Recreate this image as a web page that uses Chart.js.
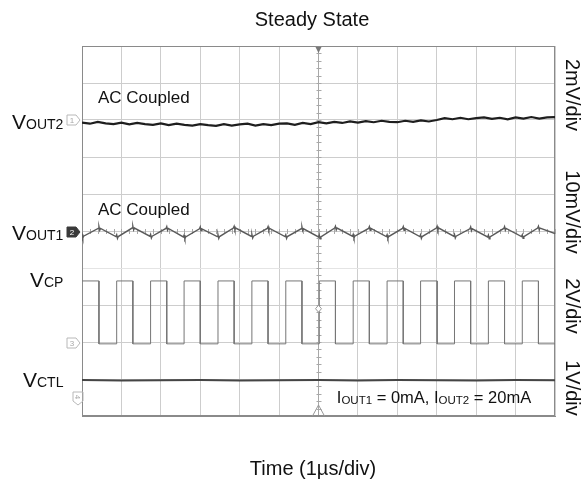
<!DOCTYPE html>
<html>
<head>
<meta charset="utf-8">
<title>Steady State</title>
<script src="https://cdn.jsdelivr.net/npm/chart.js@4"></script>
<style>
  html, body { margin: 0; padding: 0; background: #fff; }
  #wrap { width: 588px; height: 484px; position: relative; }
</style>
</head>
<body>
<div id="wrap"><canvas id="scope"></canvas></div>
<script>
// screen is 12 x 10 divisions, time in µs (1 µs/div), levels in divisions
const X_DIVS = 12;
const Y_DIVS = 10;

// VOUT2 (AC coupled, 2mV/div) sampled every 0.2 div
const VOUT2_STEP = 0.2;
const vout2 = [7.93, 7.90, 7.95, 7.91, 7.89, 7.93, 7.88, 7.92, 7.89, 7.87,
  7.91, 7.86, 7.90, 7.87, 7.85, 7.89, 7.86, 7.84, 7.89, 7.85,
  7.88, 7.90, 7.85, 7.89, 7.86, 7.90, 7.91, 7.87, 7.92, 7.89,
  7.94, 7.91, 7.95, 7.92, 7.96, 7.93, 7.97, 7.94, 7.98, 7.95,
  7.94, 7.98, 7.95, 7.99, 7.96, 8.00, 8.05, 8.02, 8.06, 8.02,
  8.05, 8.07, 8.03, 8.06, 8.02, 8.07, 8.04, 8.08, 8.04, 8.07, 8.08];

// VCP switching edges (div)
const vcpFall = [0.43, 1.29, 2.15, 3.00, 3.86, 4.72, 5.58, 6.43, 7.29, 8.15, 9.01, 9.86, 10.72, 11.58];
const vcpRise = [0.88, 1.74, 2.59, 3.45, 4.31, 5.17, 6.02, 6.88, 7.74, 8.59, 9.45, 10.31, 11.17];
const VCP_HIGH = 3.65;
const VCP_LOW = 1.95;

// VOUT1 ripple (10mV/div): peaks at VCP falling edges, troughs at rising edges
const vout1Peaks = [5.07, 5.08, 5.07, 5.06, 5.08, 5.07, 5.06, 5.08, 5.07, 5.07, 5.08, 5.06, 5.07, 5.08];
const vout1Troughs = [4.86, 4.85, 4.86, 4.84, 4.85, 4.86, 4.85, 4.84, 4.86, 4.85, 4.85, 4.86, 4.84, 4.85];
const VOUT1_END = 4.93;
const VOUT1_GLITCH = 0.05;

// VCTL (1V/div)
const vctlTimes = [0, 1, 2, 3, 4, 5, 6, 7, 8, 9, 10, 11, 12];
const vctl = [0.97, 0.96, 0.965, 0.97, 0.96, 0.965, 0.97, 0.96, 0.97, 0.965, 0.96, 0.97, 0.965];

// ---- build point lists ----
const vout2Pts = vout2.map((v, i) => ({ x: i * VOUT2_STEP, y: v }));

const vcpPts = [{ x: 0, y: VCP_HIGH }];
vcpFall.forEach((f, i) => {
  vcpPts.push({ x: f, y: VCP_HIGH }, { x: f, y: VCP_LOW });
  if (i < vcpRise.length) {
    vcpPts.push({ x: vcpRise[i], y: VCP_LOW }, { x: vcpRise[i], y: VCP_HIGH });
  }
});
vcpPts.push({ x: X_DIVS, y: VCP_LOW });

const troughTimes = [0].concat(vcpRise);
const vout1Vertices = [];
troughTimes.forEach((t, i) => vout1Vertices.push({ x: t, y: vout1Troughs[i] }));
vcpFall.forEach((t, i) => vout1Vertices.push({ x: t, y: vout1Peaks[i] }));
vout1Vertices.sort((a, b) => a.x - b.x);
const vout1Pts = [];
vout1Vertices.forEach(p => {
  // small switching glitch on every edge
  vout1Pts.push({ x: p.x - 0.02, y: p.y });
  vout1Pts.push({ x: p.x, y: p.y + VOUT1_GLITCH });
  vout1Pts.push({ x: p.x + 0.02, y: p.y - VOUT1_GLITCH });
  vout1Pts.push({ x: p.x + 0.04, y: p.y });
});
vout1Pts.push({ x: X_DIVS, y: VOUT1_END });

const vctlPts = vctl.map((v, i) => ({ x: vctlTimes[i], y: v }));

// ---- decorations: labels, channel markers, trigger marks ----
const FONT = '"Liberation Sans", Arial, Helvetica, sans-serif';

function drawSub(ctx, parts, x, y, align) {
  // parts: [text, size, dy]
  let w = 0;
  parts.forEach(p => { ctx.font = p[1] + 'px ' + FONT; w += ctx.measureText(p[0]).width; });
  let cx = align === 'center' ? x - w / 2 : x;
  ctx.textAlign = 'left';
  ctx.textBaseline = 'alphabetic';
  parts.forEach(p => {
    ctx.font = p[1] + 'px ' + FONT;
    ctx.fillText(p[0], cx, y + (p[2] || 0));
    cx += ctx.measureText(p[0]).width;
  });
}

function chMarker(ctx, x, y, label, filled) {
  ctx.save();
  ctx.beginPath();
  ctx.moveTo(x, y - 5);
  ctx.lineTo(x + 9, y - 5);
  ctx.lineTo(x + 13, y);
  ctx.lineTo(x + 9, y + 5);
  ctx.lineTo(x, y + 5);
  ctx.closePath();
  if (filled) { ctx.fillStyle = '#3a3a3a'; ctx.fill(); }
  ctx.strokeStyle = filled ? '#3a3a3a' : '#b8b8b8';
  ctx.lineWidth = 1;
  ctx.stroke();
  ctx.fillStyle = filled ? '#ffffff' : '#a8a8a8';
  ctx.font = '8px ' + FONT;
  ctx.textAlign = 'center';
  ctx.textBaseline = 'middle';
  ctx.fillText(label, x + 5, y + 0.5);
  ctx.restore();
}

const scopeDecor = {
  id: 'scopeDecor',
  beforeDatasetsDraw(chart) {
    const { ctx, chartArea: a, scales } = chart;
    const cx = scales.x.getPixelForValue(X_DIVS / 2);
    const cy = scales.y.getPixelForValue(Y_DIVS / 2);
    ctx.save();
    ctx.strokeStyle = '#a8a8a8';
    ctx.lineWidth = 1;
    ctx.beginPath();
    for (let v = 0.2; v < Y_DIVS; v += 0.2) {
      const py = Math.round(scales.y.getPixelForValue(v)) + 0.5;
      ctx.moveTo(cx - 2, py); ctx.lineTo(cx + 3, py);
    }
    for (let v = 0.2; v < X_DIVS; v += 0.2) {
      const px = Math.round(scales.x.getPixelForValue(v)) + 0.5;
      ctx.moveTo(px, cy - 2); ctx.lineTo(px, cy + 3);
    }
    ctx.stroke();
    // outer frame
    ctx.strokeStyle = '#8a8a8a';
    ctx.strokeRect(a.left + 0.5, a.top + 0.5, a.right - a.left - 1, a.bottom - a.top - 1);
    ctx.restore();
  },
  afterDraw(chart) {
    const { ctx, chartArea: a, scales } = chart;
    const cx = scales.x.getPixelForValue(X_DIVS / 2);
    ctx.save();
    ctx.fillStyle = '#111';

    // title + axis title
    ctx.font = '20px ' + FONT;
    ctx.textAlign = 'center';
    ctx.textBaseline = 'alphabetic';
    ctx.fillText('Steady State', 312, 26);
    ctx.fillText('Time (1µs/div)', 313, 475);

    // trace names
    drawSub(ctx, [['V', 21], ['OUT2', 14]], 12, 129);
    drawSub(ctx, [['V', 21], ['OUT1', 14]], 12, 240);
    drawSub(ctx, [['V', 21], ['CP', 14]], 30, 287);
    drawSub(ctx, [['V', 21], ['CTL', 14]], 23, 387);

    // in-screen notes
    ctx.font = '17px ' + FONT;
    ctx.textAlign = 'left';
    ctx.fillText('AC Coupled', 98, 103);
    ctx.fillText('AC Coupled', 98, 215);
    drawSub(ctx, [['I', 16.5], ['OUT1', 11.5, 1], [' = 0mA, I', 16.5], ['OUT2', 11.5, 1], [' = 20mA', 16.5]], 434, 403, 'center');

    // vertical scale labels
    const scaleLabels = [['2mV/div', 95], ['10mV/div', 212], ['2V/div', 306], ['1V/div', 388]];
    ctx.font = '20px ' + FONT;
    ctx.textAlign = 'center';
    ctx.textBaseline = 'middle';
    scaleLabels.forEach(([t, y]) => {
      ctx.save();
      ctx.translate(572, y);
      ctx.rotate(Math.PI / 2);
      ctx.fillText(t, 0, 0);
      ctx.restore();
    });

    // channel ground markers
    chMarker(ctx, 67, 120, '1', false);
    chMarker(ctx, 67, 232, '2', true);
    chMarker(ctx, 67, 343, '3', false);
    ctx.save();
    ctx.translate(78, 398);
    ctx.rotate(Math.PI / 2);
    chMarker(ctx, -6, 0, '4', false);
    ctx.restore();

    // trigger position / level marks
    ctx.fillStyle = '#777';
    ctx.beginPath();
    ctx.moveTo(cx - 3, a.top + 1); ctx.lineTo(cx + 3, a.top + 1); ctx.lineTo(cx, a.top + 7);
    ctx.closePath(); ctx.fill();
    ctx.strokeStyle = '#999';
    ctx.lineWidth = 1;
    ctx.beginPath();
    ctx.moveTo(cx - 6, a.bottom); ctx.lineTo(cx, a.bottom - 11); ctx.lineTo(cx + 6, a.bottom);
    ctx.stroke();
    const dy = scales.y.getPixelForValue(2.9);
    ctx.beginPath();
    ctx.moveTo(cx, dy - 3.5); ctx.lineTo(cx + 3, dy); ctx.lineTo(cx, dy + 3.5); ctx.lineTo(cx - 3, dy);
    ctx.closePath();
    ctx.fillStyle = '#fff'; ctx.fill(); ctx.stroke();
    ctx.restore();
  }
};

function trace(label, data, color, width) {
  return {
    label, data,
    borderColor: color,
    borderWidth: width,
    pointRadius: 0,
    tension: 0,
    fill: false,
  };
}

new Chart(document.getElementById('scope'), {
  type: 'line',
  data: {
    datasets: [
      trace('VOUT2', vout2Pts, '#1e1e1e', 2.2),
      trace('VOUT1', vout1Pts, '#5a5a5a', 1.4),
      trace('VCP', vcpPts, '#767676', 1),
      trace('VCTL', vctlPts, '#454545', 2),
    ],
  },
  options: {
    responsive: true,
    maintainAspectRatio: false,
    animation: false,
    layout: { padding: { left: 82, right: 33, top: 46, bottom: 68 } },
    plugins: {
      legend: { display: false },
      tooltip: { enabled: false },
      title: { display: false },
    },
    scales: {
      x: {
        type: 'linear', min: 0, max: X_DIVS,
        ticks: { display: false, stepSize: 1 },
        grid: {
          drawTicks: false,
          color: c => (c.tick.value === X_DIVS / 2 ? '#a8a8a8' : '#cdcdcd'),
        },
        border: { display: true, color: '#8a8a8a' },
      },
      y: {
        type: 'linear', min: 0, max: Y_DIVS,
        ticks: { display: false, stepSize: 1 },
        grid: {
          drawTicks: false,
          color: c => (c.tick.value === 4 ? '#e4e4e4' : '#cdcdcd'),
        },
        border: { display: true, color: '#8a8a8a' },
      },
    },
  },
  plugins: [scopeDecor],
});
</script>
</body>
</html>
